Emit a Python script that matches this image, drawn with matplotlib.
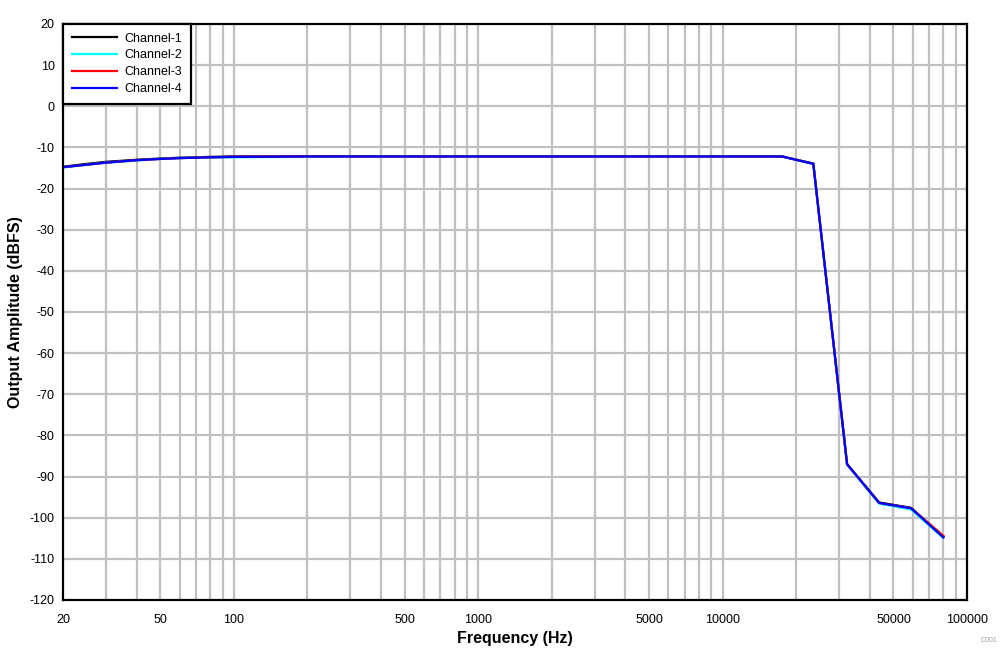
import matplotlib.pyplot as plt
import numpy as np

plt.rcParams['font.family'] = ['Liberation Sans', 'DejaVu Sans']
plt.rcParams['axes.unicode_minus'] = False

# Frequency response
freq = [20, 25, 30, 40, 50, 60, 70, 80, 100, 200, 500, 1000, 2000, 5000,
        10000, 17500, 23500, 32300, 43700, 59000, 80000]
ch1 = [-14.7, -14.0, -13.5, -13.0, -12.7, -12.5, -12.4, -12.3, -12.2, -12.2, -12.2, -12.2,
       -12.2, -12.2, -12.2, -12.2, -13.9, -87.0, -96.3, -97.6, -104.6]
ch2 = [-14.9, -14.2, -13.7, -13.2, -12.8, -12.6, -12.5, -12.5, -12.4, -12.3, -12.2, -12.2,
       -12.2, -12.2, -12.2, -12.2, -14.0, -87.1, -96.6, -98.0, -104.9]
ch3 = [-14.8, -14.2, -13.7, -13.1, -12.8, -12.6, -12.5, -12.4, -12.3, -12.2, -12.2, -12.2,
       -12.2, -12.2, -12.2, -12.2, -14.0, -87.0, -96.4, -97.7, -104.4]
ch4 = [-14.8, -14.2, -13.7, -13.1, -12.8, -12.6, -12.5, -12.4, -12.3, -12.2, -12.2, -12.2,
       -12.2, -12.2, -12.2, -12.2, -14.0, -87.0, -96.4, -97.7, -104.8]

series = [('Channel-1', ch1, 'black'), ('Channel-2', ch2, 'cyan'),
          ('Channel-3', ch3, 'red'), ('Channel-4', ch4, 'blue')]

xtick_vals = [20, 50, 100, 500, 1000, 5000, 10000, 50000, 100000]

fig = plt.figure(figsize=(10.07, 6.52), dpi=100)
ax = fig.add_axes([0.0626, 0.0798, 0.8977, 0.8834])

for name, vals, col in series:
    ax.plot(freq, vals, color=col, lw=1.6, label=name)

ax.set_xscale('log')
ax.set_xlim(20, 100000)
ax.set_ylim(-120, 20)
ax.set_yticks(np.arange(-120, 21, 10))
ax.set_xticks(xtick_vals)
ax.set_xticklabels([str(v) for v in xtick_vals])
ax.xaxis.set_minor_formatter(plt.NullFormatter())

# grid lines at every 1-9 multiple
grid_x = [m * 10 ** e for e in range(1, 5) for m in range(1, 10)] + [100000]
grid_x = [g for g in grid_x if 20 < g < 100000]
for g in grid_x:
    ax.axvline(g, color='#c0c0c0', lw=1.6, zorder=0)
for g in range(-110, 20, 10):
    ax.axhline(g, color='#c0c0c0', lw=1.6, zorder=0)

ax.tick_params(which='both', length=0, labelsize=9)
ax.tick_params(axis='x', pad=10)
ax.tick_params(axis='y', pad=6)
for s in ax.spines.values():
    s.set_linewidth(1.6)

ax.set_xlabel('Frequency (Hz)', fontsize=11.5, fontweight='bold', labelpad=4)
ax.set_ylabel('Output Amplitude (dBFS)', fontsize=11.5, fontweight='bold', labelpad=5)

leg = ax.legend(loc='upper left', fontsize=9, frameon=True, fancybox=False,
                borderaxespad=0, handlelength=3.6, labelspacing=0.38,
                borderpad=0.7, handletextpad=0.6)
leg.get_frame().set_edgecolor('black')
leg.get_frame().set_linewidth(1.6)
leg.get_frame().set_alpha(1)

fig.text(0.99, 0.015, 'D001', fontsize=5, color='#a0a0a0', ha='right')

fig.savefig('out.png', dpi=100)
